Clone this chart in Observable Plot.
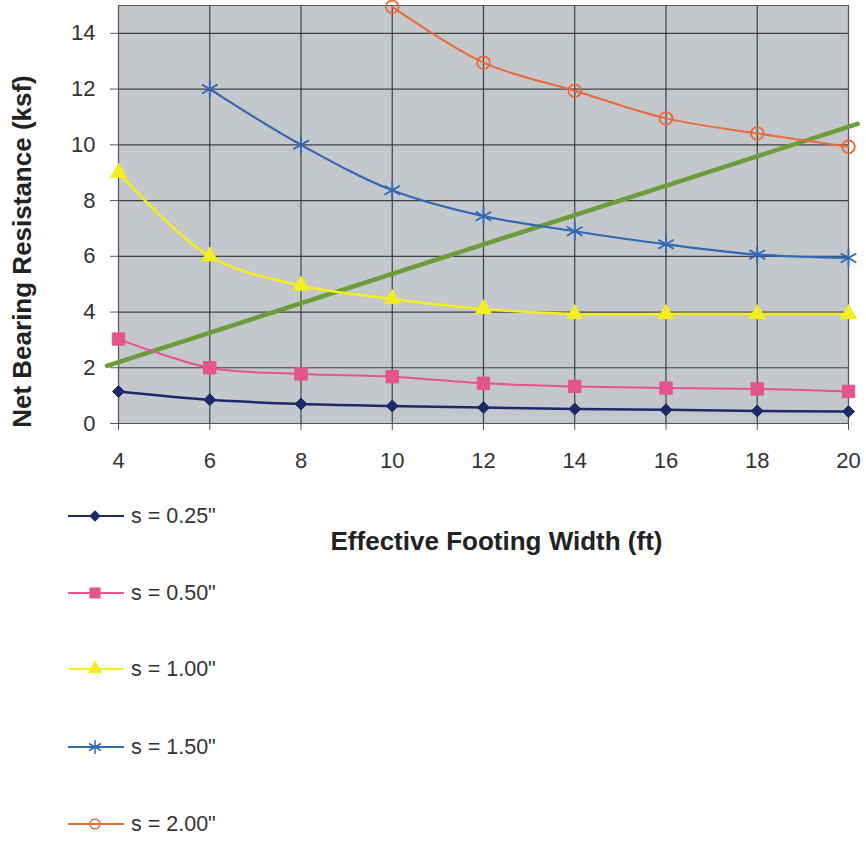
<!DOCTYPE html>
<html>
<head>
<meta charset="utf-8">
<script src="https://cdn.jsdelivr.net/npm/d3@7"></script>
<script src="https://cdn.jsdelivr.net/npm/@observablehq/plot@0.6"></script>
<style>
  html, body { margin: 0; padding: 0; background: #fff; }
  #wrap { position: relative; width: 866px; height: 841px; font-family: "Liberation Sans", Arial, sans-serif; }
  #legend { position: absolute; left: 0; top: 0; }
  .item { position: absolute; left: 66px; height: 26px; display: flex; align-items: center; font-size: 21.5px; color: #333; white-space: nowrap; }
  .item svg { margin-right: 5px; }
</style>
</head>
<body>
<div id="wrap"><div id="legend"></div></div>
<script>
// ---- data ----
const widths = [4, 6, 8, 10, 12, 14, 16, 18, 20];
const s025 = [1.15, 0.85, 0.70, 0.63, 0.57, 0.52, 0.49, 0.45, 0.43];
const s050 = [3.03, 2.00, 1.78, 1.68, 1.44, 1.33, 1.27, 1.24, 1.15];
const s100 = [9.0, 6.0, 4.95, 4.47, 4.11, 3.93, 3.93, 3.93, 3.93];
const s150 = [null, 12.0, 10.0, 8.37, 7.44, 6.90, 6.43, 6.06, 5.94];
const s200 = [null, null, null, 14.95, 12.95, 11.94, 10.95, 10.41, 9.93];
const seriesNames = ["s = 0.25\"", "s = 0.50\"", "s = 1.00\"", "s = 1.50\"", "s = 2.00\""];
const trendX = [3.75, 20.2];
const trendY = [2.07, 10.75];
const xTicks = [4, 6, 8, 10, 12, 14, 16, 18, 20];
const yTicks = [0, 2, 4, 6, 8, 10, 12, 14];
const xLabel = "Effective Footing Width (ft)";
const yLabel = "Net Bearing Resistance (ksf)";

// ---- styles ----
const seriesValues = [s025, s050, s100, s150, s200];
const styles = [
  {color: "#1c2a6a", symbol: "diamond2", r: 5.4, fill: true, sw: 2.5},
  {color: "#e4558e", symbol: "square", r: 7, fill: true, sw: 2},
  {color: "#f3ee22", symbol: "triangle", r: 6, fill: true, sw: 2.5},
  {color: "#3168b3", symbol: "asterisk", r: 8.5, fill: false, sw: 2.2},
  {color: "#ea6a38", symbol: "circle", r: 6.3, fill: false, sw: 2}
];

const rows = [];
seriesValues.forEach((vals, i) => {
  vals.forEach((v, j) => { if (v != null) rows.push({x: widths[j], y: v, s: i}); });
});
const trend = trendX.map((x, i) => ({x, y: trendY[i]}));

const marks = [
  Plot.frame({fill: "#c4c7cb"}),
  Plot.gridX(xTicks, {stroke: "#333", strokeOpacity: 0.9, strokeWidth: 1.2}),
  Plot.gridY(yTicks, {stroke: "#333", strokeOpacity: 0.9, strokeWidth: 1.2}),
  Plot.frame({stroke: "#555"}),
  Plot.axisX(xTicks, {tickSize: 7, tickPadding: 22, fontSize: 22, fill: "#333", stroke: "#555", label: null, tickFormat: d => String(d)}),
  Plot.axisY(yTicks, {tickSize: 8, tickPadding: 15, fontSize: 22, fill: "#333", stroke: "#555", label: null, tickFormat: d => String(d)}),
  Plot.line(trend, {x: "x", y: "y", stroke: "#6b9d3a", strokeWidth: 4.5})
];
seriesValues.forEach((vals, i) => {
  const st = styles[i];
  const data = rows.filter(d => d.s === i);
  marks.push(Plot.line(data, {x: "x", y: "y", stroke: st.color, strokeWidth: st.sw, curve: "catmull-rom"}));
  marks.push(Plot.dot(data, {
    x: "x", y: "y", symbol: () => st.symbol, r: st.r,
    fill: st.fill ? st.color : "none",
    stroke: st.color, strokeWidth: st.fill ? 1 : 1.8
  }));
});
marks.push(Plot.text([yLabel], {frameAnchor: "left", rotate: -90, dx: -96, dy: 37, fontSize: 26, fontWeight: "bold", fill: "#222", textAnchor: "middle", lineAnchor: "middle"}));
marks.push(Plot.text([xLabel], {frameAnchor: "bottom", dx: 13, dy: 118, fontSize: 26, fontWeight: "bold", fill: "#222", textAnchor: "middle", lineAnchor: "middle"}));

const chart = Plot.plot({
  width: 866,
  height: 841,
  marginLeft: 118,
  marginRight: 18,
  marginTop: 5,
  marginBottom: 418,
  style: {fontFamily: "'Liberation Sans', Arial, sans-serif", background: "#fff", overflow: "visible"},
  x: {domain: [4, 20]},
  y: {domain: [0, 15]},
  marks
});
document.getElementById("wrap").prepend(chart);

// ---- legend ----
const legendCenters = [516, 593, 669, 747, 824];
const legend = document.getElementById("legend");
seriesNames.forEach((name, i) => {
  const st = styles[i];
  const item = document.createElement("div");
  item.className = "item";
  item.style.top = (legendCenters[i] - 13) + "px";
  const svg = d3.create("svg").attr("width", 60).attr("height", 26);
  svg.append("line").attr("x1", 2).attr("x2", 58).attr("y1", 13).attr("y2", 13)
    .attr("stroke", st.color).attr("stroke-width", 2);
  const symMap = {diamond2: d3.symbolDiamond2, square: d3.symbolSquare, triangle: d3.symbolTriangle, asterisk: d3.symbolAsterisk, circle: d3.symbolCircle};
  const size = Math.PI * st.r * st.r * 0.6;
  svg.append("path").attr("transform", "translate(29,13)")
    .attr("d", d3.symbol(symMap[st.symbol], size)())
    .attr("fill", st.fill ? st.color : "none")
    .attr("stroke", st.color).attr("stroke-width", 1.5);
  item.appendChild(svg.node());
  const span = document.createElement("span");
  span.textContent = name;
  item.appendChild(span);
  legend.appendChild(item);
});
</script>
</body>
</html>
